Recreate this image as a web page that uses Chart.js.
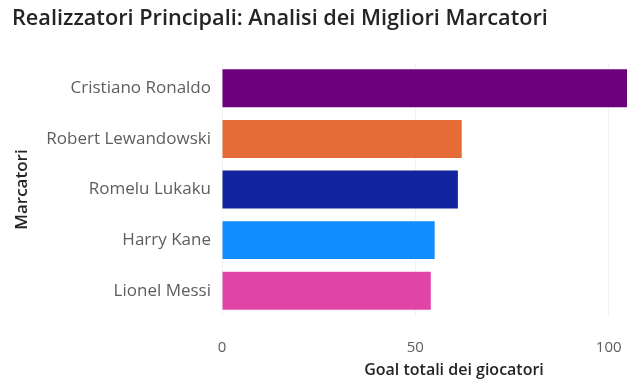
<!DOCTYPE html>
<html>
<head>
<meta charset="utf-8">
<script src="https://cdn.jsdelivr.net/npm/chart.js@4.4.1/dist/chart.umd.min.js"></script>
<style>
  html, body { margin: 0; padding: 0; background: #fff; overflow: hidden; }
  #wrap { width: 627px; height: 383px; overflow: hidden; }
</style>
</head>
<body>
<div id="wrap">
  <canvas id="myChart" width="686" height="383"></canvas>
</div>
<script>
const players = ['Cristiano Ronaldo', 'Robert Lewandowski', 'Romelu Lukaku', 'Harry Kane', 'Lionel Messi'];
const goals = [128, 62, 61, 55, 54];
const barColors = ['#6B007B', '#E66C37', '#12239E', '#118DFF', '#E044A7'];
const xTicks = [0, 50, 100];

const ctx = document.getElementById('myChart').getContext('2d');

new Chart(ctx, {
  type: 'bar',
  data: {
    labels: players,
    datasets: [{
      data: goals,
      backgroundColor: barColors,
      borderWidth: 0,
      barPercentage: 0.75,
      categoryPercentage: 1
    }]
  },
  options: {
    indexAxis: 'y',
    responsive: false,
    animation: false,
    layout: { padding: { left: 12, right: 0, top: 0, bottom: 0 } },
    plugins: {
      legend: { display: false },
      tooltip: { enabled: false },
      title: {
        display: true,
        text: 'Realizzatori Principali: Analisi dei Migliori Marcatori',
        align: 'start',
        color: '#252423',
        font: { family: 'Open Sans', size: 21.7, weight: '600' },
        padding: { top: 6, bottom: 31 }
      }
    },
    scales: {
      x: {
        min: 0,
        max: 120,
        // only 0, 50 and 100 get a label
        afterBuildTicks: (axis) => { axis.ticks = xTicks.map(v => ({ value: v })); },
        afterFit: (scale) => { scale.height = 67; },
        grid: { display: true, drawTicks: false, color: 'rgba(0,0,0,0.05)' },
        border: { display: false },
        ticks: { color: '#605E5C', font: { family: 'Open Sans', size: 15 }, padding: 23 },
        title: {
          display: true,
          text: 'Goal totali dei giocatori',
          color: '#252423',
          font: { family: 'Open Sans', size: 16, weight: '600' },
          padding: { top: 0, bottom: 3 }
        }
      },
      y: {
        afterFit: (scale) => { scale.width = 210; },
        grid: { display: false, drawTicks: false },
        border: { display: false },
        ticks: { color: '#605E5C', font: { family: 'Open Sans', size: 17 }, padding: 11 },
        title: {
          display: true,
          text: 'Marcatori',
          color: '#252423',
          font: { family: 'Open Sans', size: 17, weight: '600' },
          padding: { top: 0, bottom: 0 }
        }
      }
    }
  }
});
</script>
</body>
</html>
